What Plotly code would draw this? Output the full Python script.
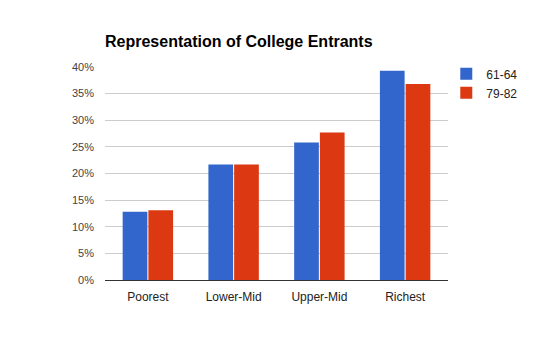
import plotly.graph_objects as go

# Income quartiles and share of college entrants per cohort
categories = ["Poorest", "Lower-Mid", "Upper-Mid", "Richest"]
cohort_61_64 = [12.8, 21.7, 25.8, 39.3]
cohort_79_82 = [13.1, 21.7, 27.7, 36.8]
y_ticks = [0, 5, 10, 15, 20, 25, 30, 35, 40]
y_tick_labels = [f"{v}%" for v in y_ticks]

font_family = "Liberation Sans, Arial, sans-serif"

fig = go.Figure()
fig.add_trace(go.Bar(name="61-64", x=categories, y=cohort_61_64,
                     marker=dict(color="#3366cc", line=dict(width=0))))
fig.add_trace(go.Bar(name="79-82", x=categories, y=cohort_79_82,
                     marker=dict(color="#dc3912", line=dict(width=0))))

fig.update_layout(
    width=553, height=347,
    margin=dict(l=105, r=105, t=67, b=67),
    paper_bgcolor="white", plot_bgcolor="white",
    barmode="group", bargap=0.4, bargroupgap=0.04,
    font=dict(family=font_family, size=12, color="#222"),
    title=dict(text="<b>Representation of College Entrants</b>",
               font=dict(family=font_family, size=16, color="#000"),
               xref="paper", x=0, xanchor="left",
               yref="container", y=1 - 41 / 347, yanchor="middle"),
    legend=dict(x=0.995, xanchor="left", y=1.036, yanchor="top",
                xref="paper", yref="paper",
                font=dict(family=font_family, size=12, color="#222"),
                bgcolor="rgba(0,0,0,0)", itemwidth=30,
                tracegroupgap=0),
    showlegend=True,
)
fig.update_yaxes(range=[0, 40], tickvals=y_ticks, ticktext=y_tick_labels,
                 showgrid=True, gridcolor="#cccccc", gridwidth=1,
                 zeroline=False, showline=False, ticks="",
                 ticklabelstandoff=10,
                 tickfont=dict(family=font_family, size=11, color="#444"))
fig.update_xaxes(showline=True, linecolor="#333333", linewidth=1,
                 ticks="", showgrid=False, ticklabelstandoff=6,
                 tickfont=dict(family=font_family, size=12, color="#222"))

fig.write_html("out.html")
